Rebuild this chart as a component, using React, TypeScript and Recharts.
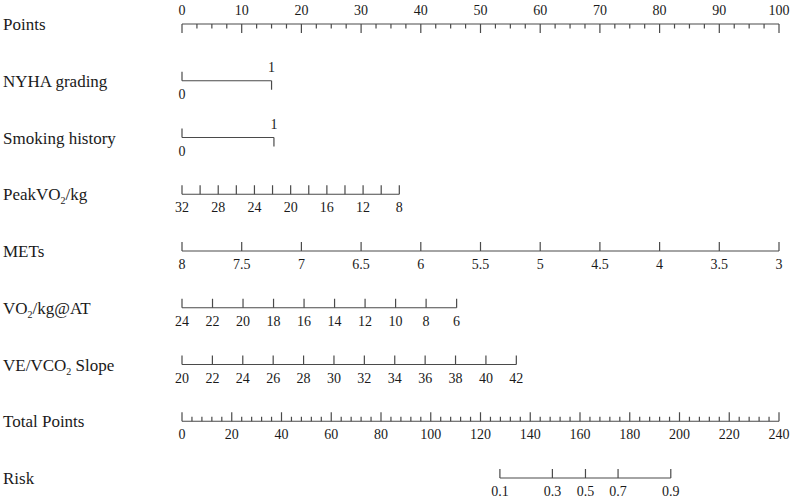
import React from 'react';
import { ComposedChart, Scatter, XAxis, YAxis, ReferenceLine } from 'recharts';

// row captions, top to bottom
const rowNames = [
  'Points',
  'NYHA grading',
  'Smoking history',
  'PeakVO2/kg',
  'METs',
  'VO2/kg@AT',
  'VE/VCO2 Slope',
  'Total Points',
  'Risk',
];

// Points scale
const pointsLabels = [0, 10, 20, 30, 40, 50, 60, 70, 80, 90, 100];
const pointsMinor = [
  2.5, 5, 7.5, 12.5, 15, 17.5, 22.5, 25, 27.5, 32.5, 35, 37.5, 42.5, 45, 47.5,
  52.5, 55, 57.5, 62.5, 65, 67.5, 72.5, 75, 77.5, 82.5, 85, 87.5, 92.5, 95, 97.5,
];

// binary predictors: level -> points
const nyhaLevels = [0, 1];
const nyhaPoints = [0, 15];
const smokingLevels = [0, 1];
const smokingPoints = [0, 15.4];

// continuous predictors: ticks, labelled ticks, points at first / last tick
const peakTicks = [32, 30, 28, 26, 24, 22, 20, 18, 16, 14, 12, 10, 8];
const peakLabels = [32, 28, 24, 20, 16, 12, 8];
const peakScore = [0, 36.4];

const metsTicks = [8, 7.5, 7, 6.5, 6, 5.5, 5, 4.5, 4, 3.5, 3];
const metsScore = [0, 100];

const atTicks = [24, 22, 20, 18, 16, 14, 12, 10, 8, 6];
const atScore = [0, 46];

const slopeTicks = [20, 22, 24, 26, 28, 30, 32, 34, 36, 38, 40, 42];
const slopeScore = [0, 56];

// Total points scale
const totalMax = 240;
const totalLabels = [0, 20, 40, 60, 80, 100, 120, 140, 160, 180, 200, 220, 240];
const totalMinor = [
  4, 8, 12, 16, 24, 28, 32, 36, 44, 48, 52, 56, 64, 68, 72, 76, 84, 88, 92, 96,
  104, 108, 112, 116, 124, 128, 132, 136, 144, 148, 152, 156, 164, 168, 172, 176,
  184, 188, 192, 196, 204, 208, 212, 216, 224, 228, 232, 236,
];

// Risk: probability and the total points where it sits
const riskLabels = [0.1, 0.3, 0.5, 0.7, 0.9];
const riskTotals = [127.8, 148.9, 162.2, 175.3, 196.5];

const LINE = '#4a4a4a';
const TEXT = '#1a1a1a';
const FONT = '"Liberation Serif", "Times New Roman", serif';

type Tick = { x: number; y: number; label: string | null; major: boolean; side: 'up' | 'down' };

const linear = (ticks: number[], score: number[]) => (v: number) =>
  score[0] + ((v - ticks[0]) / (ticks[ticks.length - 1] - ticks[0])) * (score[1] - score[0]);

const ticks: Tick[] = [];
const ends: number[] = [];

// row 0: Points
pointsLabels.forEach((v) => ticks.push({ x: v, y: 0, label: String(v), major: true, side: 'down' }));
pointsMinor.forEach((v) => ticks.push({ x: v, y: 0, label: null, major: false, side: 'down' }));
ends.push(100);

// rows 1-2: binary
[[nyhaLevels, nyhaPoints], [smokingLevels, smokingPoints]].forEach(([lv, pt], i) => {
  lv.forEach((v, j) =>
    ticks.push({ x: pt[j], y: i + 1, label: String(v), major: true, side: j === 0 ? 'up' : 'down' })
  );
  ends.push(pt[pt.length - 1]);
});

// rows 3-6: continuous
const cont: [number[], number[], number[]][] = [
  [peakTicks, peakLabels, peakScore],
  [metsTicks, metsTicks, metsScore],
  [atTicks, atTicks, atScore],
  [slopeTicks, slopeTicks, slopeScore],
];
cont.forEach(([tk, lb, sc], i) => {
  const f = linear(tk, sc);
  tk.forEach((v) =>
    ticks.push({ x: f(v), y: i + 3, label: lb.includes(v) ? String(v) : null, major: true, side: 'up' })
  );
  ends.push(sc[1]);
});

// row 7: Total points
const toPts = (t: number) => (t / totalMax) * 100;
totalLabels.forEach((v) => ticks.push({ x: toPts(v), y: 7, label: String(v), major: true, side: 'up' }));
totalMinor.forEach((v) => ticks.push({ x: toPts(v), y: 7, label: null, major: false, side: 'up' }));
ends.push(100);

// row 8: Risk
riskLabels.forEach((v, j) =>
  ticks.push({ x: toPts(riskTotals[j]), y: 8, label: String(v), major: true, side: 'up' })
);

const segments = rowNames.map((_, i) => {
  if (i === 8) return [toPts(riskTotals[0]), toPts(riskTotals[riskTotals.length - 1])];
  return [0, ends[i]];
});

const TickMark = (props: any) => {
  const { cx, cy, payload } = props;
  const len = payload.major ? 9 : 4.5;
  const dir = payload.side === 'up' ? -1 : 1;
  const ly = payload.side === 'up' ? cy + 18 : cy - 9;
  return (
    <g>
      <line x1={cx} x2={cx} y1={cy} y2={cy + dir * len} stroke={LINE} strokeWidth={1.2} />
      {payload.label !== null && (
        <text x={cx} y={ly} textAnchor="middle" fontSize={14} fontFamily={FONT} fill={TEXT}>
          {payload.label}
        </text>
      )}
    </g>
  );
};

const RowName = (props: any) => {
  const { y, payload } = props;
  const name = rowNames[payload.value] || '';
  const parts = name.split('2');
  return (
    <text x={3} y={y + 6} textAnchor="start" fontSize={17} fontFamily={FONT} fill={TEXT}>
      {parts.length === 2 ? (
        <>
          <tspan>{parts[0]}</tspan>
          <tspan fontSize={10} dy={4}>2</tspan>
          <tspan dy={-4}>{parts[1]}</tspan>
        </>
      ) : (
        name
      )}
    </text>
  );
};

const App: React.FC = () => (
  <div style={{ position: 'absolute', left: 0, top: 0, background: '#fff' }}>
    <ComposedChart width={794} height={499} margin={{ top: 24, right: 15, bottom: 21, left: 0 }}>
      <XAxis type="number" dataKey="x" domain={[0, 100]} hide />
      <YAxis
        type="number"
        dataKey="y"
        domain={[0, 8]}
        reversed
        ticks={[0, 1, 2, 3, 4, 5, 6, 7, 8]}
        interval={0}
        width={182}
        axisLine={false}
        tickLine={false}
        tick={<RowName />}
      />
      {segments.map(([a, b], i) => (
        <ReferenceLine
          key={i}
          segment={[{ x: a, y: i }, { x: b, y: i }]}
          stroke={LINE}
          strokeWidth={1.2}
        />
      ))}
      <Scatter data={ticks} shape={<TickMark />} isAnimationActive={false} />
    </ComposedChart>
  </div>
);

export default App;
